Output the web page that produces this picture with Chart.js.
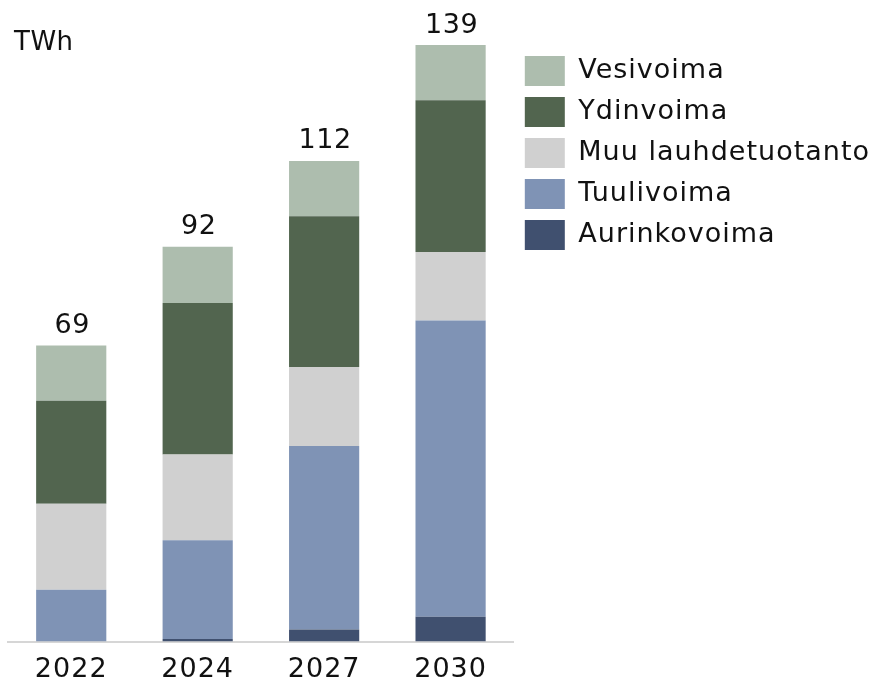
<!DOCTYPE html>
<html>
<head>
<meta charset="utf-8">
<script src="https://cdn.jsdelivr.net/npm/chart.js@4"></script>
<style>
  html, body { margin: 0; padding: 0; background: #fff; }
  #wrap { width: 872px; height: 685px; }
</style>
</head>
<body>
<div id="wrap"><canvas id="kaavio" width="872" height="685"></canvas></div>
<script>
const vuodet = ['2022', '2024', '2027', '2030'];
const aurinkovoima = [0, 0.6, 2.8, 5.8];
const tuulivoima = [12.1, 23, 42.8, 69];
const muuLauhde = [20, 20, 18.4, 16];
const ydinvoima = [24, 35.3, 35.1, 35.3];
const vesivoima = [12.9, 13.1, 12.9, 12.9];
const summat = [69, 92, 112, 139];

const fontti = "'DejaVu Sans', Verdana, sans-serif";
const valistys = '1px';

// hieman leveämpi kirjainväli (kuva on Verdana-tyylinen)
const kirjainvali = {
    id: 'kirjainvali',
    beforeUpdate(chart) { chart.ctx.letterSpacing = valistys; },
    beforeDraw(chart) { chart.ctx.letterSpacing = valistys; }
};

// summat pylväiden päälle + yksikkö vasempaan yläkulmaan
const tekstit = {
    id: 'tekstit',
    afterDatasetsDraw(chart) {
        const ctx = chart.ctx;
        const x = chart.scales.x;
        const y = chart.scales.y;
        ctx.save();
        ctx.letterSpacing = '0.5px';
        ctx.fillStyle = '#111';
        ctx.font = '27px ' + fontti;
        ctx.textAlign = 'center';
        ctx.textBaseline = 'bottom';
        summat.forEach((s, i) => {
            ctx.fillText(String(s), x.getPixelForValue(i) + 1, y.getPixelForValue(s) - 6);
        });
        ctx.font = '26px ' + fontti;
        ctx.textAlign = 'left';
        ctx.textBaseline = 'alphabetic';
        ctx.fillText('TWh', 14, 50);
        ctx.restore();
    }
};

const ctx = document.getElementById('kaavio').getContext('2d');
new Chart(ctx, {
    type: 'bar',
    data: {
        labels: vuodet,
        datasets: [
            { label: 'Aurinkovoima', data: aurinkovoima, backgroundColor: '#40506f' },
            { label: 'Tuulivoima', data: tuulivoima, backgroundColor: '#7f93b5' },
            { label: 'Muu lauhdetuotanto', data: muuLauhde, backgroundColor: '#d0d0d0' },
            { label: 'Ydinvoima', data: ydinvoima, backgroundColor: '#52654f' },
            { label: 'Vesivoima', data: vesivoima, backgroundColor: '#adbdae' }
        ]
    },
    options: {
        responsive: false,
        animation: false,
        categoryPercentage: 1,
        barPercentage: 0.555,
        layout: { padding: { top: 45, left: 8, right: -8, bottom: -13 } },
        scales: {
            x: {
                stacked: true,
                grid: { display: false, drawTicks: false },
                border: { color: '#d6d6d6', width: 2 },
                ticks: { color: '#111', font: { family: fontti, size: 27 }, padding: 12 }
            },
            y: {
                stacked: true,
                display: false,
                min: 0,
                max: 139
            }
        },
        plugins: {
            legend: {
                position: 'right',
                align: 'start',
                reverse: true,
                labels: {
                    boxWidth: 40,
                    boxHeight: 30,
                    padding: 11,
                    color: '#111',
                    font: { family: fontti, size: 27 }
                }
            },
            tooltip: { enabled: false }
        }
    },
    plugins: [kirjainvali, tekstit]
});
</script>
</body>
</html>
